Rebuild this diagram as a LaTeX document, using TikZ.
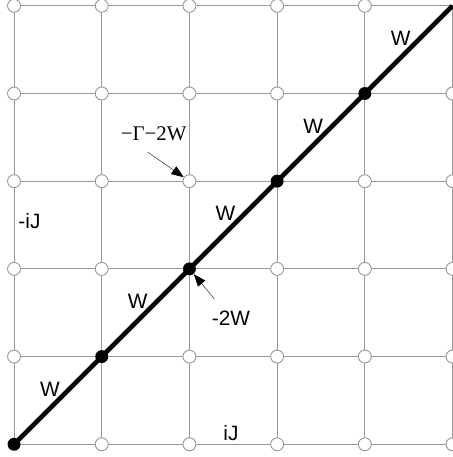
\documentclass[tikz,border=0pt]{standalone}
\usepackage{fontspec}
\setmainfont{Liberation Sans}
\newfontfamily\serifface{Liberation Serif}
\usetikzlibrary{arrows.meta}

\begin{document}
\begin{tikzpicture}[x=2cm, y=2cm,
  font=\fontsize{13.5}{16}\selectfont,
  gridline/.style={gray!80, line width=0.6pt},
  site/.style={circle, draw=gray!80, fill=white, line width=0.6pt,
    inner sep=0pt, minimum size=8.4pt},
  occ/.style={circle, fill=black, inner sep=0pt, minimum size=8.4pt},
  bond/.style={line width=3pt},
  wlab/.style={midway, shift={(-0.18cm,0.26cm)}},
  ptr/.style={-{Triangle[length=8pt,width=6pt,color=black]},
    gray!60!black, line width=0.4pt}]
  \useasboundingbox (-0.16,-0.145) rectangle (5.005,5.066);

  % lattice
  \draw[gridline, step=2cm] (0,0) grid (5,5);
  \foreach \i in {0,...,5}
    \foreach \j in {0,...,5}
      \coordinate (g-\i-\j) at (\i,\j);
  \foreach \i in {0,...,5}
    \foreach \j in {0,...,5}
    {
      \ifnum\i=\j\else
        \node[site] (c-\i-\j) at (g-\i-\j) {};
      \fi
    }

  % occupied diagonal
  \draw[bond] (g-0-0) -- node[wlab] {W} (g-1-1) -- node[wlab] {W} (g-2-2)
    -- node[wlab] {W} (g-3-3) -- node[wlab] {W} (g-4-4)
    -- node[wlab] {W} (g-5-5);
  \foreach \k in {0,...,4}
    \node[occ] (d-\k) at (g-\k-\k) {};

  % labels
  \node (gam) at (1.593,3.541) {\serifface −Γ−2W};
  \node (m2w) at (2.474,1.437) {-2W};
  \node (mij) at (0.176,2.547) {-iJ};
  \node (ij) at (2.474,0.129) {iJ};
  \draw[ptr] ([shift={(-3.9pt,-3.8pt)}]gam.south) -- (c-2-3);
  \draw[ptr] ([shift={(-10.7pt,4.2pt)}]m2w.north) -- (d-2);
\end{tikzpicture}
\end{document}
